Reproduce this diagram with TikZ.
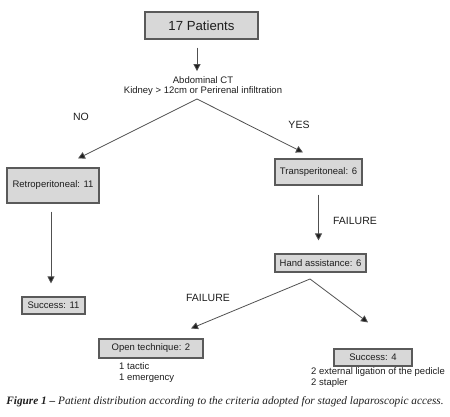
\documentclass[tikz,border=0pt]{standalone}
\usepackage{fontspec}
\setmainfont{Liberation Sans}
\newfontfamily\capfont{Liberation Serif}
\definecolor{boxgray}{RGB}{216, 216, 216}
\definecolor{edgegray}{RGB}{90, 90, 90}
\definecolor{linegray}{RGB}{80, 80, 80}
\definecolor{inkgray}{RGB}{30, 30, 30}
\usetikzlibrary{arrows.meta, positioning, calc}

\begin{document}
\begin{tikzpicture}[x=1pt, y=-1pt,
    stage/.style={draw=edgegray, fill=boxgray, line width=1.1pt, inner sep=0pt, text=inkgray, font=\fontsize{9.5}{11.4}\selectfont},
    arr/.style={draw=linegray, line width=0.8pt, -{Triangle[length=7pt, width=7pt, fill=inkgray]}},
    branch/.style={text=inkgray, font=\fontsize{10.5}{12}\selectfont},
    note/.style={text=inkgray, align=left, anchor=north west, inner sep=0pt, font=\fontsize{9.5}{11}\selectfont}]
  \useasboundingbox (0,0) rectangle (450,417);

  % Start
  \node[stage, minimum width=113pt, minimum height=27pt, font=\fontsize{13.2}{15}\selectfont] (patients) at (201.5, 25.5) {17 Patients};

  % Criterion
  \node[text=inkgray, align=center, inner sep=2pt, font=\fontsize{9.5}{10.5}\selectfont] (ct) at (203, 86) {Abdominal CT\\Kidney > 12cm or Perirenal infiltration};
  \coordinate (ctfork) at (197, 99);

  % Access
  \node[stage, minimum width=92pt, minimum height=35pt] (retro) at (53, 185.5) {Retroperitoneal: 11};
  \node[stage, minimum width=87pt, minimum height=26pt] (trans) at (318.5, 172) {Transperitoneal: 6};
  \node[stage, minimum width=91pt, minimum height=18pt] (hand) at (320.5, 263) {Hand assistance: 6};
  \coordinate (handfork) at (310, 279);

  % Outcome
  \node[stage, minimum width=63pt, minimum height=17pt] (succ11) at (53.5, 305.5) {Success: 11};
  \node[stage, minimum width=104pt, minimum height=19pt] (open) at (151, 348.5) {Open technique: 2};
  \node[stage, minimum width=78pt, minimum height=17pt] (succ4) at (373, 357.5) {Success: 4};
  \node[note] (opennote) at (119, 362) {1 tactic\\1 emergency};
  \node[note] (succnote) at (311, 367) {2 external ligation of the pedicle\\2 stapler};

  % Branch labels
  \node[branch] (no) at (81, 117) {NO};
  \node[branch] (yes) at (299, 125) {YES};
  \node[branch] (fail1) at (355, 221) {FAILURE};
  \node[branch] (fail2) at (208, 298) {FAILURE};

  % Connectors
  \draw[arr, shorten <=8pt, shorten >=3pt] (patients.south -| ctfork) -- (ct.north -| ctfork);
  \draw[arr] (ctfork) -- ([xshift=25pt, yshift=9pt]retro.north);
  \draw[arr] (ctfork) -- ([xshift=-15.5pt, yshift=6pt]trans.north);
  \draw[arr, shorten <=9pt, shorten >=13pt] (trans.south) -- (hand.north -| trans.south);
  \draw[arr, shorten <=8pt, shorten >=13pt] ([xshift=-2pt]retro.south) -- ([xshift=-2.5pt]succ11.north);
  \draw[arr] (handfork) -- ([xshift=40pt, yshift=10pt]open.north);
  \draw[arr] (handfork) -- ([xshift=-5pt, yshift=26pt]succ4.north);

  % Caption
  \node[text=inkgray, font=\capfont\fontsize{11.3}{13}\selectfont] (caption) at (225, 402) {\textbf{\textit{Figure 1 –}} \textit{Patient distribution according to the criteria adopted for staged laparoscopic access.}};
\end{tikzpicture}
\end{document}
